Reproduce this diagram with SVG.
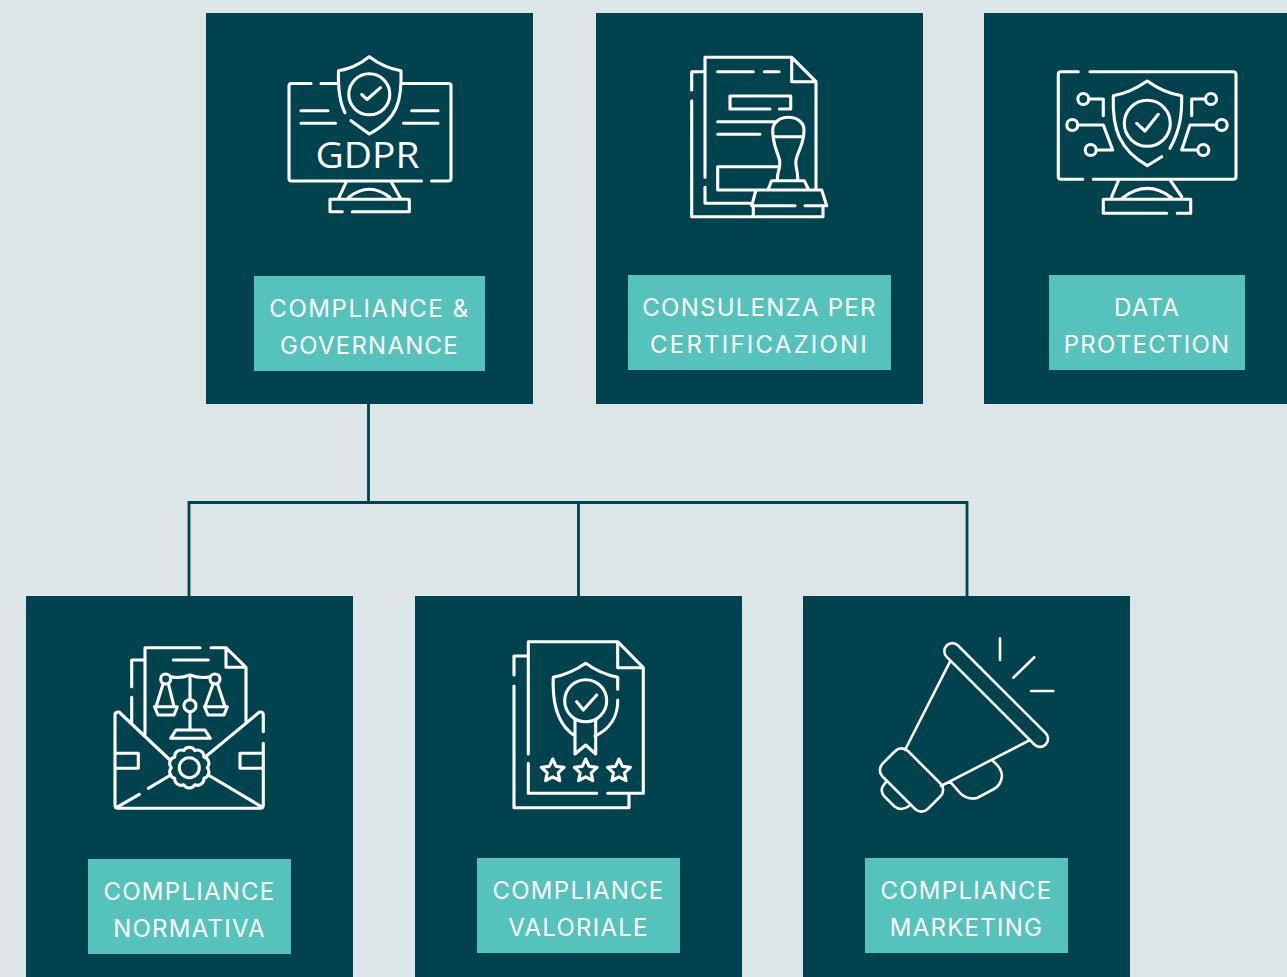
<svg xmlns="http://www.w3.org/2000/svg" width="1287" height="977" viewBox="0 0 1287 977">
<style>
.card{fill:#00424e}
.tag{fill:#55c2bb}
.lb{font-family:"Inter","Noto Sans",sans-serif;font-size:24px;fill:#fff;text-anchor:middle;letter-spacing:1.25px}
.ic{fill:none;stroke:#fff;stroke-width:3.1;stroke-linecap:round;stroke-linejoin:round}
.ic2{fill:none;stroke:#fff;stroke-width:2.6;stroke-linecap:round;stroke-linejoin:round}
.cn{fill:none;stroke:#00424e;stroke-width:2.8}
</style>
<defs><path id="star" d="M0-12 3.4-4.6 11.4-3.7 5.5 1.8 7.1 9.7 0 5.8-7.1 9.7-5.500 1.8-11.4-3.7-3.4-4.6Z"/></defs>
<rect width="1287" height="977" fill="#dde6e7"/>
<g id="connectors" class="cn"><path d="M368.500 404V502.500M189 596V502.500H967V596M578.500 502.500V596"/></g>
<g id="compliance-governance">
<rect class="card" x="206" y="13" width="327" height="391"/>
<rect class="tag" x="254" y="276" width="231" height="95"/>
<text class="lb" x="369.500" y="317" style="letter-spacing:1.55px">COMPLIANCE &amp;</text><text class="lb" x="369.500" y="354">GOVERNANCE</text>
<path class="ic" d="M311 83.500H291.500Q289 83.500 289 86V178.500Q289 181 291.500 181H421.500M431.500 181H448.500Q451 181 451 178.500V86Q451 83.500 448.500 83.500H403M321 83.500H338M301 110.700H328M301 123.300H335.500M411.700 110.700H438M403.500 123.300H438M345 112.700C339 101 338 87 338.500 70.700 350 69 360 64 369.300 56.700 379 64 390 69 401 70.700 402 100 398 119 369.300 134L351 120.700M361.700 94.300 367 99.500 380.500 87.700M346 182.700 338.500 198.300M391.700 182.700 400.500 198.300M348.500 197.500Q369.300 181 390 197.500M342.300 211.700H330V199.300H409.300V211.700H352.300"/>
<circle class="ic" cx="369.300" cy="94.300" r="20.500"/>
<text x="367.500" y="168" font-family="'Open Sans','Noto Sans',sans-serif" font-size="37" fill="#fff" text-anchor="middle" textLength="104" lengthAdjust="spacingAndGlyphs">GDPR</text>
</g>
<g id="consulenza-certificazioni">
<rect class="card" x="596" y="13" width="327" height="391"/>
<rect class="tag" x="628" y="275" width="263" height="95"/>
<text class="lb" x="759.500" y="316">CONSULENZA PER</text><text class="lb" x="759.500" y="353" style="letter-spacing:2.2px">CERTIFICAZIONI</text>
<path class="ic" d="M705 177.300V57.300H791.700L816 81.700V189M791.700 57.300V81.700H816M705 187.300V203.300H750M691.700 90V71.700H705M691.700 100.700V216.700H823V207.700M753.300 205.700V216.700M795 205.700H751.700L756 190H821.700L826.700 205.700H805M717.700 71.700H753.300M764.300 71.700H779M770 109H730V96H790.700V109H779.300M717.700 121.700H776.700M717.700 134.300H760M778.300 166.700H717.700V190H756M774 136.700H802.500M777.300 179.300C777.500 170 781 168 779.500 160 777 150 772.700 145 772.700 130 773 122 780 117.300 788.300 117.300 797 117.300 804 122 804 130 804 145 798 150 796 160 795 168 798 170 797.700 179.300M768.300 189 771.700 180.700H804.300L808.300 189"/>
</g>
<g id="data-protection">
<rect class="card" x="984" y="13" width="303" height="391"/>
<rect class="tag" x="1049" y="275" width="196" height="95"/>
<text class="lb" x="1147" y="316">DATA</text><text class="lb" x="1147" y="353">PROTECTION</text>
<path class="ic" d="M1078.300 71.700H1061Q1058.300 71.700 1058.300 74.500V176.500Q1058.300 179.300 1061 179.300H1082.700M1093.300 179.300H1233Q1236 179.300 1236 176.500V74.500Q1236 71.700 1233 71.700H1090M1170 148.300C1180 130 1182 115 1181.700 95.700 1169 94 1157 88 1147.300 81 1137 88 1125 94 1113.300 95.700 1112 130 1120 150 1147.300 165.700L1161.700 156.700M1136.700 123.300 1145 131 1158.300 114.300M1089 99H1103.300V115.700M1077.800 125H1103.300L1112.700 150H1096.700M1205 99H1191.700V115.700M1216 125H1190L1181.700 150H1197.700M1118.300 181 1111.700 196.700M1170.700 181 1181.700 196.700M1122.700 197.700Q1147.300 179 1171.700 197.700M1166.700 213.300H1103.300V199.300H1190.700V213.300H1177.300"/>
<circle class="ic" cx="1147.300" cy="123.300" r="23"/>
<circle class="ic" cx="1083.300" cy="99" r="5.500"/><circle class="ic" cx="1072.300" cy="125" r="5.500"/><circle class="ic" cx="1090.700" cy="150" r="5.500"/><circle class="ic" cx="1211" cy="99" r="5.500"/><circle class="ic" cx="1221.700" cy="125" r="5.500"/><circle class="ic" cx="1203.300" cy="150" r="5.500"/>
</g>
<g id="compliance-normativa">
<rect class="card" x="26" y="596" width="327" height="381"/>
<rect class="tag" x="88" y="859" width="203" height="95"/>
<text class="lb" x="189.500" y="900">COMPLIANCE</text><text class="lb" x="189.500" y="937">NORMATIVA</text>
<path class="ic" d="M145 735V647.700H200M211 647.700H226L246 667.300V722.300M226 647.700V667.300H246M131.700 686.700V660H145M131.700 697.300V722.300M173.300 660H208.300M190 678.300V700M190 711.700V730M170.700 738.300 176 730H205L210.300 738.300ZM170.700 676.700Q180 679 190 675 200 679 210 676.700M163.300 683.300 156 706.700M168.300 683.300 174 706.700M213.300 683.300 205 706.700M217.300 683.300 225 706.700M154.500 706.700H177.300L174 715H158ZM204.500 706.700H227.300L224 715H208ZM263.300 731.700V715Q263.300 712 260.500 712H259.500L206.700 755.700M263.300 743.300V805Q263.300 808.300 260 808.300H118Q115 808.300 115 805V715Q115 712 118 712H119L170 760M116.700 807.300 139.300 794.300M148.300 788.300 170.700 775M208.300 775 262.500 807.300M116 753.300H138.300V768.300H116M262.700 753.300H240V768.300H262.700"/>
<circle class="ic" cx="190" cy="705.700" r="6"/><circle class="ic" cx="165.700" cy="679" r="5"/><circle class="ic" cx="215" cy="679" r="5"/>
<circle class="ic" cx="189.300" cy="767.700" r="10"/>
<path class="ic" d="M207.300 767.700A6.500 6.500 0 0 1 203.900 778.300A6.500 6.500 0 0 1 194.900 784.800A6.500 6.500 0 0 1 183.700 784.800A6.500 6.500 0 0 1 174.700 778.300A6.500 6.500 0 0 1 171.300 767.700A6.500 6.500 0 0 1 174.700 757.100A6.500 6.500 0 0 1 183.700 750.600A6.500 6.500 0 0 1 194.900 750.600A6.500 6.500 0 0 1 203.900 757.100A6.500 6.500 0 0 1 207.300 767.700Z"/>
</g>
<g id="compliance-valoriale">
<rect class="card" x="415" y="596" width="327" height="381"/>
<rect class="tag" x="477" y="858" width="203" height="95"/>
<text class="lb" x="578.500" y="899">COMPLIANCE</text><text class="lb" x="578.500" y="936">VALORIALE</text>
<path class="ic" d="M528.300 754V641.700H617.700L643.300 667.700V793.300H607.700M617.700 641.700V667.700H643.300M596.700 793.300H528.300V763.300M514 675V656H528.300M514 686V807.700H629V795M617.700 689.300V677.300C606 675 595 670 585.700 663.300 576 670 565 675 553.300 677.300 552 705 558 725 575 736M617.700 700C618 716 610 729 595 736M576.700 701.700 583.300 710 596.700 695M575 720V754L585.700 745 595.700 754V720"/>
<circle class="ic" cx="585.700" cy="700.700" r="21"/>
<use href="#star" class="ic" x="552.700" y="771"/><use href="#star" class="ic" x="585.700" y="771"/><use href="#star" class="ic" x="619" y="771"/>
</g>
<g id="compliance-marketing">
<rect class="card" x="803" y="596" width="327" height="381"/>
<rect class="tag" x="865" y="858" width="203" height="95"/>
<text class="lb" x="966.500" y="899">COMPLIANCE</text><text class="lb" x="966.500" y="936">MARKETING</text>
<path class="ic2" d="M950 661.700 905 750M1030 740 941 786M886.700 781 883 786Q880 791 884 796L894 806Q901 812 909 806M950 781.700 961 794Q968 800 977 798L994 789Q1001 785 1002 776 1002 768 991.700 760M1000 638.300V660M1034.300 657.300 1013.300 677.700M1031 691H1053.300"/>
<rect class="ic2" x="-70" y="-8" width="140" height="16" rx="8" transform="translate(996.200 695) rotate(45)"/>
<rect class="ic2" x="-32" y="-18" width="64" height="36" rx="9" transform="translate(911.500 780) rotate(45)"/>
</g>
</svg>
